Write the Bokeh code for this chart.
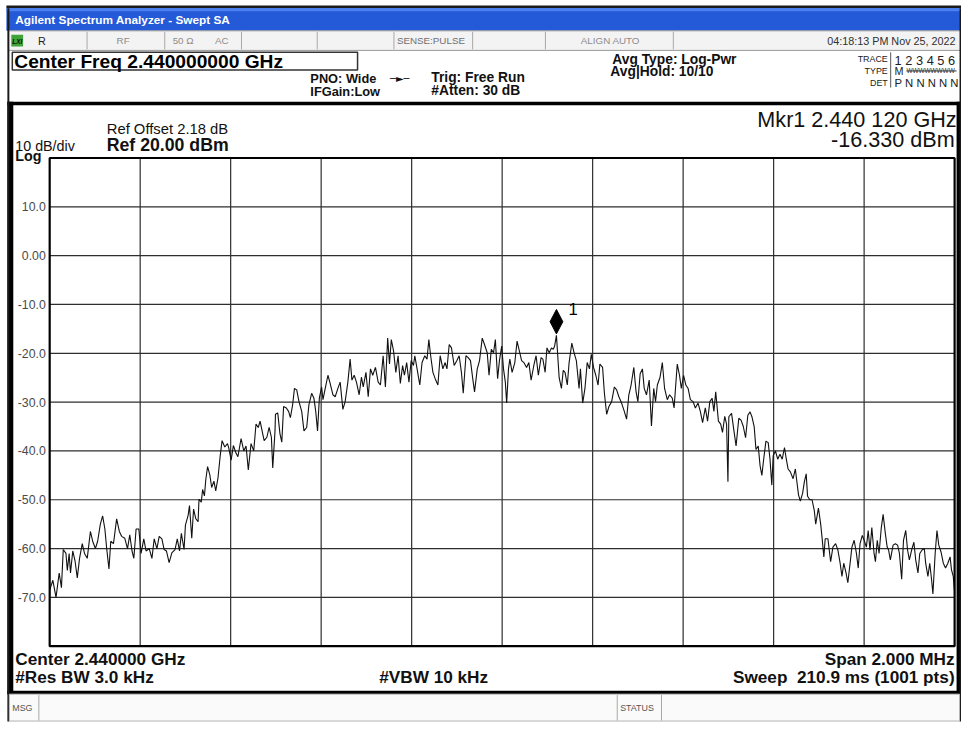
import numpy as np
from bokeh.plotting import figure
from bokeh.models import Range1d
from bokeh.core.properties import value
from bokeh.embed import file_html
from bokeh.resources import INLINE

# ---------------- data ----------------
center_freq_ghz = 2.44
span_khz = 2000.0
ref_level_dbm = 20.0
db_per_div = 10.0
n_divisions = 10

# trace: frequency offset from centre (kHz) and level (dBm)
freq_offset_khz = [
    -1000, -993, -986, -979, -974, -970, -964, -961, -957, -954,
    -949, -944, -939, -934, -928, -923, -917, -910, -905, -899,
    -894, -888, -883, -878, -874, -869, -865, -859, -852, -846,
    -841, -834, -828, -823, -818, -814, -809, -803, -798, -792,
    -787, -780, -774, -769, -763, -758, -752, -747, -742, -736,
    -730, -723, -718, -713, -709, -703, -700, -694, -691, -686,
    -682, -677, -672, -670, -665, -662, -658, -655, -651, -646,
    -642, -637, -633, -628, -623, -619, -613, -607, -604, -599,
    -594, -588, -584, -577, -571, -566, -561, -555, -549, -544,
    -539, -535, -526, -520, -515, -510, -507, -502,
    -501, -496, -491, -487, -483, -477, -472, -468, -463, -459,
    -454, -449, -443, -438, -432, -427, -421, -416, -412, -408,
    -404, -399, -396, -391, -385, -380, -374, -369, -363, -358,
    -352, -347, -341, -336, -332, -327, -322, -316, -311, -307,
    -301, -296, -291, -286, -280, -274, -269, -263, -258, -253,
    -249, -245, -240, -235, -230, -225, -220, -216, -211, -206,
    -201, -196, -193, -188, -182, -177, -171, -166, -162, -158,
    -153, -148, -142, -137, -131, -126, -122, -117, -112, -106,
    -100, -95, -90, -86, -80, -75, -70, -65, -61, -55,
    -50, -44, -39, -33, -29, -24, -19, -15, -10, -6,
    -1, 3, 7, 10, 14, 17, 22, 28, 33, 38,
    43, 48, 54, 59, 64, 70, 75, 80, 86, 90,
    95, 99, 104, 109, 113, 116, 120, 126, 131, 135,
    139, 144, 148, 154, 159, 164, 170, 173, 178, 183,
    188, 193, 197, 202, 207, 212, 216, 222, 226, 231,
    236, 242, 248, 253, 258, 264, 270, 275, 280, 285,
    291, 296, 300, 305, 310, 314, 319, 325, 330, 335,
    339, 343, 349, 354, 359, 365, 370, 376, 380, 387,
    392, 396, 401, 406, 411, 416, 422, 427, 433, 438,
    443, 449, 454, 459, 464, 468, 472, 478, 483, 487,
    492, 496, 499,
    501, 507, 512, 517, 523, 528, 533, 538, 543, 548,
    552, 557, 561, 566, 570, 574, 578, 583, 588, 592,
    596, 599, 604, 609, 614, 619, 624, 628, 632, 637,
    643, 648, 651, 655, 659, 664, 668, 672, 675, 680,
    685, 690, 693, 699, 704, 707, 711, 714, 720, 726,
    731, 737, 742, 747, 751, 755, 760, 764, 769, 773,
    778, 783, 787, 791, 796, 800, 805, 809, 813, 817,
    822, 825, 829, 833, 838, 842, 847, 851, 854, 858,
    864, 869, 874, 878, 883, 887, 892, 896, 900, 905,
    910, 914, 919, 923, 928, 933, 936, 941, 945, 949,
    952, 957, 961, 965, 970, 975, 980, 985, 990, 993,
    997, 1000,
]
trace_dbm = [
    -68.5, -66.5, -70.0, -65.0, -68.0, -60.2, -61.0, -64.5, -61.0, -65.0,
    -60.5, -62.5, -66.0, -62.0, -59.0, -61.0, -62.0, -56.5, -58.5, -60.0,
    -58.5, -55.0, -53.3, -56.0, -60.0, -64.2, -58.5, -59.0, -53.9, -56.5,
    -57.5, -57.9, -60.0, -57.2, -60.5, -62.0, -56.0, -56.0, -61.0, -58.0,
    -60.5, -60.0, -62.0, -58.0, -60.0, -57.5, -58.0, -60.2, -60.5, -62.9,
    -60.9, -60.2, -58.0, -60.5, -56.9, -60.2, -55.2, -53.2, -51.2, -57.9,
    -51.9, -53.9, -54.5, -49.9, -50.5, -47.9, -49.2, -45.9, -43.2, -44.9,
    -47.5, -46.2, -48.2, -45.5, -40.9, -37.9, -39.2, -38.5, -39.5, -41.9,
    -38.9, -40.5, -41.2, -37.5, -40.0, -39.0, -43.9, -38.5, -40.0, -34.5,
    -35.2, -33.9, -37.9, -37.2, -35.2, -37.2, -43.5, -35.9,
    -32.5, -32.2, -36.5, -38.2, -30.9, -31.2, -31.9, -33.2, -30.5, -27.2,
    -27.5, -29.9, -31.9, -35.9, -35.2, -30.5, -28.2, -29.2, -31.9, -35.9,
    -29.2, -26.9, -29.5, -27.2, -24.5, -26.2, -28.5, -28.9, -27.2, -25.9,
    -31.5, -29.9, -25.9, -21.2, -25.5, -24.5, -25.9, -28.5, -24.9, -26.9,
    -23.9, -28.9, -23.2, -24.5, -22.9, -25.9, -26.5, -20.5, -26.9, -16.9,
    -22.2, -17.2, -19.5, -23.9, -20.5, -26.2, -22.5, -24.5, -21.9, -25.9,
    -21.5, -22.5, -20.5, -23.2, -26.5, -21.9, -20.5, -21.2, -17.2, -20.5,
    -23.9, -25.2, -26.5, -20.5, -23.2, -21.9, -23.2, -18.2, -18.9, -22.5,
    -21.5, -20.5, -23.9, -28.2, -20.5, -20.9, -21.5, -25.2, -27.9, -23.2,
    -21.5, -16.9, -18.2, -19.9, -24.5, -19.2, -19.9, -17.2, -25.2, -21.5,
    -18.5, -23.2, -25.9, -30.2, -23.2, -21.2, -23.9, -21.9, -17.5, -19.5,
    -21.5, -21.9, -22.9, -21.9, -25.5, -22.5, -20.5, -24.5, -20.9, -21.2,
    -23.9, -18.9, -19.9, -18.9, -19.2, -18.5, -16.33, -25.0, -27.2, -23.5,
    -23.9, -26.5, -21.9, -17.9, -19.9, -21.5, -27.2, -23.2, -30.2, -27.2,
    -21.9, -23.2, -20.2, -22.9, -24.5, -26.5, -22.2, -22.9, -28.2, -32.5,
    -30.9, -29.9, -26.9, -27.5, -28.9, -30.2, -31.9, -33.5, -28.5, -26.5,
    -22.9, -27.9, -29.9, -24.2, -23.2, -27.2, -28.5, -25.5, -34.9, -27.2,
    -29.9, -26.5, -24.9, -21.9, -27.2, -29.5, -28.5, -29.2, -31.2, -22.2,
    -24.5, -27.2, -24.5, -26.5, -27.2, -29.5, -29.9, -31.2, -30.2, -31.9,
    -34.2, -31.2, -33.9, -29.9, -29.2, -31.9, -27.9, -33.9, -34.5, -36.2,
    -32.9, -34.5, -46.3,
    -33.0, -32.3, -35.7, -39.0, -33.3, -33.7, -35.0, -37.3, -32.7, -32.0,
    -33.0, -35.0, -39.7, -39.0, -43.0, -45.0, -41.7, -38.0, -38.3, -41.7,
    -47.0, -41.0, -40.0, -41.7, -40.7, -41.7, -39.3, -41.7, -43.7, -44.3,
    -45.7, -43.7, -46.0, -49.0, -50.3, -48.7, -46.3, -44.7, -49.3, -50.0,
    -50.0, -52.3, -55.0, -51.7, -55.0, -57.7, -61.7, -58.0, -58.0, -62.7,
    -59.7, -59.0, -60.3, -63.0, -65.7, -63.0, -65.0, -67.0, -63.0, -59.7,
    -58.3, -61.0, -64.0, -59.0, -57.3, -58.3, -59.7, -56.3, -60.3, -55.7,
    -61.0, -62.7, -58.3, -61.0, -55.7, -53.0, -57.0, -59.7, -60.3, -62.3,
    -59.3, -59.0, -59.3, -61.0, -66.3, -58.3, -56.3, -60.3, -62.3, -60.3,
    -58.7, -62.3, -65.0, -61.0, -60.3, -60.0, -63.0, -65.7, -63.0, -66.3,
    -69.3, -61.0, -56.3, -59.3, -60.7, -63.0, -64.0, -63.0, -61.7, -64.3,
    -65.7, -69.0,
]
assert len(freq_offset_khz) == len(trace_dbm)

marker_freq_khz = 120.0
marker_dbm = -16.33

level_ticks = [10, 0, -10, -20, -30, -40, -50, -60, -70]
level_tick_labels = ["10.0", "0.00", "-10.0", "-20.0", "-30.0", "-40.0", "-50.0", "-60.0", "-70.0"]
freq_grid_khz = [-800, -600, -400, -200, 0, 200, 400, 600, 800]

# ---------------- layout ----------------
REF_W, REF_H = 977, 738          # screenshot coordinate frame
W, H = 961, 722                  # canvas that fits the window
S = W / REF_W
GX0, GX1, GY0, GY1 = 50.0, 970.0, 161.0, 660.0   # graticule box
FONT = "Liberation Sans"

half = span_khz / 2
bottom_dbm = ref_level_dbm - db_per_div * n_divisions
kpp = span_khz / (GX1 - GX0)
dpp = (ref_level_dbm - bottom_dbm) / (GY1 - GY0)
f_lo = -half - GX0 * kpp
f_hi = half + (REF_W - GX1) * kpp
d_top = ref_level_dbm + GY0 * dpp
d_bot = bottom_dbm - (REF_H - GY1) * dpp

p = figure(width=W, height=H, x_range=Range1d(0, REF_W), y_range=Range1d(REF_H, 0),
           x_axis_type=None, y_axis_type=None, toolbar_location=None,
           output_backend="svg", min_border=0, outline_line_color=None,
           background_fill_color="white", border_fill_color="white")
p.extra_x_ranges = {"f": Range1d(f_lo, f_hi)}
p.extra_y_ranges = {"d": Range1d(d_bot, d_top)}


def txt(x, y, s, size, color="#000000", style="normal", align="left",
        baseline="middle", font=FONT):
    p.text(x=[x], y=[y], text=[s], text_font=value(font),
           text_font_size=value(f"{size * S:.1f}px"), text_font_style=style,
           text_align=align, text_baseline=baseline, text_color=color)


def box(l, r, t, b, fill, line=None, lw=1.0):
    p.quad(left=[l], right=[r], top=[t], bottom=[b], fill_color=fill,
           line_color=line, line_width=lw)


def vline(x, y0, y1, color, lw=1.0):
    p.segment(x0=[x], y0=[y0], x1=[x], y1=[y1], line_color=color, line_width=lw)


# ---- window chrome: title bar ----
box(6, 977, 5, 8, "#1b1b1b")
box(6, 977, 8, 31, "#2459d8")
box(6, 977, 8, 11, "#4a80f0")
txt(15, 20, "Agilent Spectrum Analyzer - Swept SA", 12, "white", "bold")

# ---- status bar ----
box(8, 976, 31, 51, "#f3f3f3", "#9a9a9a", 1)
for xd in [88, 167, 245, 322, 400, 480, 554, 684]:
    vline(xd, 32, 50, "#a8a8a8")
box(11, 23, 35, 47, "#3fa33a")
txt(12, 41.5, "LXI", 6.5, "#0a0a0a", "bold italic")
txt(38, 41, "R", 11, "#222222")
txt(118, 41, "RF", 10, "#8c8c8c")
txt(175, 41, "50 Ω", 10, "#8c8c8c")
txt(218, 41, "AC", 10, "#8c8c8c")
txt(403, 41, "SENSE:PULSE", 10, "#707070")
txt(590, 41, "ALIGN AUTO", 10, "#8c8c8c")
txt(971, 41, "04:18:13 PM Nov 25, 2022", 11, "#303030", align="right")

# ---- measurement bar ----
box(12, 363, 53, 71, "white", "#333333", 1.5)
txt(14, 62, "Center Freq 2.440000000 GHz", 19.5, "#000000", "bold")
txt(315, 80, "PNO: Wide", 13, "#111111", "bold")
txt(315, 93, "IFGain:Low", 13, "#111111", "bold")
txt(396, 80, "─►─", 10, "#111111", font="DejaVu Sans")
txt(438, 79, "Trig: Free Run", 14, "#111111", "bold")
txt(438, 92, "#Atten: 30 dB", 14, "#111111", "bold")
txt(622, 60, "Avg Type: Log-Pwr", 14, "#111111", "bold")
txt(620, 73, "Avg|Hold: 10/10", 14, "#111111", "bold")
txt(902, 60, "TRACE", 9, "#222222", align="right")
txt(902, 72, "TYPE", 9, "#222222", align="right")
txt(902, 84, "DET", 9, "#222222", align="right")
vline(905, 53, 89, "#555555")
txt(909, 61, "1 2 3 4 5 6", 13, "#222222")
txt(909, 72, "M", 11, "#222222")
txt(921, 72, "WWWWWWWW", 6.5, "#333333")
p.segment(x0=[921], y0=[72], x1=[972], y1=[72], line_color="#333333", line_width=1)
txt(909, 84, "P N N N N N", 11.5, "#222222")

# ---- graticule window frame ----
box(7, 977, 103.5, 107, "#000000")
box(7, 13, 103.5, 709, "#000000")
box(972, 977, 103.5, 709, "#000000")
box(7, 977, 705.5, 709, "#000000")
box(7, 9, 8, 737, "#1a1a1a")
box(975, 977, 8, 737, "#1a1a1a")

# ---- grid, trace, frame ----
nf, nl = len(freq_grid_khz), len(level_ticks)
p.segment(x0=freq_grid_khz, y0=[bottom_dbm] * nf, x1=freq_grid_khz, y1=[ref_level_dbm] * nf,
          x_range_name="f", y_range_name="d", line_color="#2e2e2e", line_width=1.2)
p.segment(x0=[-half] * nl, y0=level_ticks, x1=[half] * nl, y1=level_ticks,
          x_range_name="f", y_range_name="d", line_color="#2e2e2e", line_width=1.2)
p.line(x=freq_offset_khz, y=trace_dbm, x_range_name="f", y_range_name="d",
       line_color="#111111", line_width=1.1)
p.quad(left=[-half], right=[half], top=[ref_level_dbm], bottom=[bottom_dbm],
       fill_color=None, line_color="#000000", line_width=2.2,
       x_range_name="f", y_range_name="d")
p.text(x=[46] * nl, y=level_ticks, text=level_tick_labels, y_range_name="d",
       text_font=value(FONT), text_font_size=value(f"{12.5 * S:.1f}px"),
       text_align="right", text_baseline="middle", text_color="#4a4a4a")

# ---- marker ----
dx = 6.5 * kpp
hh = 25 * dpp
gap = 0.3
p.patch(x=[marker_freq_khz, marker_freq_khz + dx, marker_freq_khz, marker_freq_khz - dx],
        y=[marker_dbm + gap, marker_dbm + gap + hh / 2, marker_dbm + gap + hh, marker_dbm + gap + hh / 2],
        x_range_name="f", y_range_name="d", fill_color="#000000", line_color="#000000")
p.text(x=[marker_freq_khz], y=[marker_dbm], text=["1"], x_offset=12, y_offset=-26,
       x_range_name="f", y_range_name="d", text_font=value(FONT),
       text_font_size=value(f"{17 * S:.1f}px"), text_align="left",
       text_baseline="middle", text_color="#000000")

# ---- annotation texts in the window ----
txt(108, 131, "Ref Offset 2.18 dB", 15, "#111111")
txt(15, 149, "10 dB/div", 14.5, "#111111")
txt(108, 148, "Ref 20.00 dBm", 18, "#111111", "bold")
txt(15, 159, "Log", 14.5, "#111111", "bold")
txt(972, 122, "Mkr1 2.440 120 GHz", 22, "#111111", align="right")
txt(970, 142, "-16.330 dBm", 22, "#111111", align="right")

txt(15, 673, "Center 2.440000 GHz", 17.5, "#111111", "bold")
txt(15, 692, "#Res BW 3.0 kHz", 17.5, "#111111", "bold")
txt(385, 692, "#VBW 10 kHz", 17.5, "#111111", "bold")
txt(970, 673, "Span 2.000 MHz", 17.5, "#111111", "bold", align="right")
txt(970, 692, "Sweep\u00a0 210.9 ms (1001 pts)", 17.5, "#111111", "bold", align="right")

# ---- message bar ----
box(9, 975, 709, 736.5, "#fafafa", "#b4b4b4", 1)
vline(39, 710, 736, "#a8a8a8")
txt(12, 723, "MSG", 9, "#555555")
vline(627, 710, 736, "#a8a8a8")
vline(672, 710, 736, "#a8a8a8")
txt(630, 723, "STATUS", 9, "#555555")

open("out.html", "w").write(file_html(p, INLINE))
